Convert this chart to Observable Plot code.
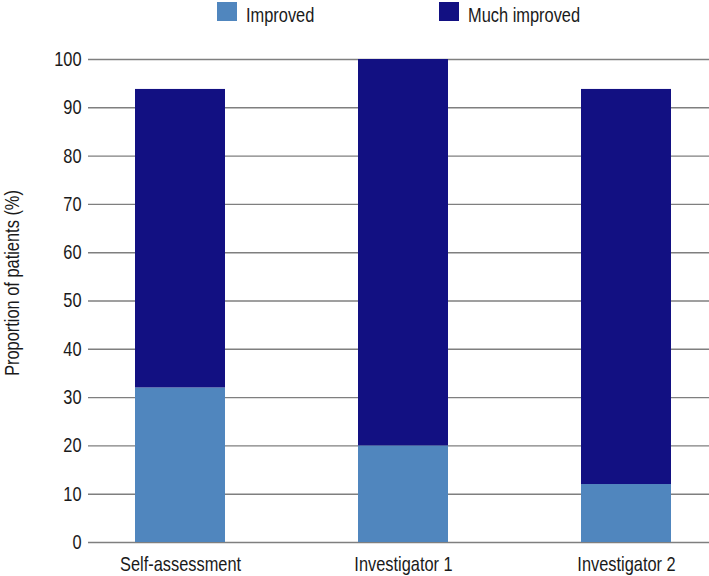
<!DOCTYPE html>
<html>
<head>
<meta charset="utf-8">
<script src="https://cdn.jsdelivr.net/npm/d3@7"></script>
<script src="https://cdn.jsdelivr.net/npm/@observablehq/plot@0.6"></script>
<style>
  body { margin: 0; background: #fff; }
  #wrap { position: relative; width: 709px; height: 576px; font-family: "Liberation Sans Narrow", "Arial Narrow", "Liberation Sans", Arial, sans-serif; color: #1a1a1a; }
  #legend { position: relative; width: 709px; height: 30px; font-size: 20px; }
  #legend .sw { position: absolute; top: 2px; width: 20px; height: 19px; }
  #legend .lb { position: absolute; top: 4px; line-height: 22px; white-space: nowrap; transform: scaleX(0.82); transform-origin: 0 50%; }
  #chart svg { display: block; }
</style>
</head>
<body>
<div id="wrap">
  <div id="legend"></div>
  <div id="chart"></div>
</div>
<script>
// ---- data ----
const categories = ["Self-assessment", "Investigator 1", "Investigator 2"];
const seriesNames = ["Improved", "Much improved"];
const improved = [32, 20, 12];
const muchImproved = [61.8, 80, 81.8];
const yTicks = [0, 10, 20, 30, 40, 50, 60, 70, 80, 90, 100];
const yLabel = "Proportion of patients (%)";

// ---- styles ----
const seriesColors = ["#5086be", "#121082"];
const legendPos = [{sw: 217, lb: 246}, {sw: 439, lb: 468}];
const narrow = 0.82; // emulate a narrow sans face

const rows = [];
categories.forEach((c, i) => {
  rows.push({category: c, series: seriesNames[0], value: improved[i]});
  rows.push({category: c, series: seriesNames[1], value: muchImproved[i]});
});

// legend
const legend = document.getElementById("legend");
seriesNames.forEach((s, i) => {
  const sw = document.createElement("div");
  sw.className = "sw";
  sw.style.left = legendPos[i].sw + "px";
  sw.style.background = seriesColors[i];
  legend.appendChild(sw);
  const lb = document.createElement("div");
  lb.className = "lb";
  lb.style.left = legendPos[i].lb + "px";
  lb.textContent = s;
  legend.appendChild(lb);
});

const chart = Plot.plot({
  width: 709,
  height: 546,
  marginTop: 29,
  marginBottom: 34,
  marginLeft: 88,
  marginRight: 0,
  style: {fontSize: "20px", fontFamily: "'Liberation Sans Narrow', 'Arial Narrow', 'Liberation Sans', Arial, sans-serif", color: "#1a1a1a", background: "#fff"},
  x: {domain: categories, range: [134, 671], paddingInner: 0.597, paddingOuter: 0, label: null},
  y: {domain: [0, 100], label: null},
  color: {domain: seriesNames, range: seriesColors},
  marks: [
    Plot.ruleY(yTicks, {stroke: "#7f7f7f", strokeWidth: 1.4}),
    Plot.barY(rows, {x: "category", y: "value", fill: "series", order: seriesNames}),
    Plot.axisY({ticks: yTicks, tickSize: 0, tickPadding: 7, label: yLabel, labelAnchor: "center", labelArrow: "none", labelOffset: 84}),
    Plot.axisX({tickSize: 0, tickPadding: 14, label: null})
  ]
});
document.getElementById("chart").appendChild(chart);

// shift the y-axis title slightly upward as in the reference
const lab = d3.select(chart).select('g[aria-label="y-axis label"] text');
if (!lab.empty()) {
  const t = lab.attr("transform") || "";
  const m = t.match(/translate\(([-\d.]+),\s*([-\d.]+)\)/);
  if (m) lab.attr("transform", t.replace(m[0], `translate(${m[1]},${+m[2] - 18})`));
}

// condense all SVG text horizontally around its own anchor
d3.select(chart).selectAll("text").each(function () {
  const x = parseFloat(this.getAttribute("x"));
  const t = this.getAttribute("transform") || "";
  const cx = (isFinite(x) && !/em/.test(this.getAttribute("x") || "")) ? x : 0;
  this.setAttribute("transform", `${t} translate(${cx},0) scale(${narrow},1) translate(${-cx},0)`.trim());
});
</script>
</body>
</html>
